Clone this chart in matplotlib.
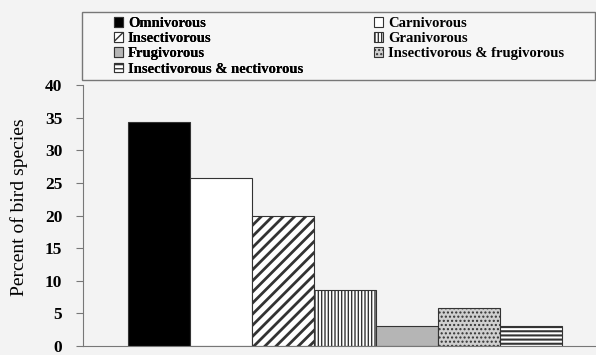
import numpy as np
import matplotlib
matplotlib.use('Agg')
from matplotlib import pyplot as plt
from matplotlib.patches import Patch, Rectangle

diets = ['Omnivorous', 'Carnivorous', 'Insectivorous', 'Granivorous',
         'Frugivorous', 'Insectivorous & frugivorous', 'Insectivorous & nectivorous']
percent = [34.4, 25.8, 20.0, 8.6, 3.0, 5.8, 3.0]
yticks = [0, 5, 10, 15, 20, 25, 30, 35, 40]

colors = ['black', 'white', 'white', 'white', '#b5b5b5', '#cfcfcf', 'white']
hatches = [None, None, '///', '|||||', None, '....', '----']
hatch_lw = [1, 1, 2.0, 1.0, 1, 1, 1.5]

plt.rcParams['font.family'] = 'Liberation Serif'

fig = plt.figure(figsize=(5.96, 3.55), dpi=100)
fig.patch.set_facecolor('#f3f3f3')
ax = fig.add_axes([83 / 596, 9 / 355, 1 - 83 / 596, 261 / 355])
ax.set_facecolor('#f3f3f3')

x = np.arange(len(diets))
handles = []
for i in range(len(diets)):
    with plt.rc_context({'hatch.linewidth': hatch_lw[i]}):
        bar = ax.bar(x[i], percent[i], width=1.0, color=colors[i], hatch=hatches[i],
                     edgecolor='#333333', linewidth=0.8)
        h = Patch(facecolor=colors[i], hatch=hatches[i], edgecolor='#333333',
                  linewidth=0.8, label=diets[i])
    handles.append(h)

ax.set_xlim(-1.23, 7.05)
ax.set_ylim(0, 40)
ax.set_yticks(yticks)
ax.set_yticklabels([str(t) for t in yticks], fontsize=12.5, fontweight='bold')
ax.set_xticks([])
ax.tick_params(axis='y', direction='out', length=5, color='#777777', pad=10)
for s in ['top', 'right']:
    ax.spines[s].set_visible(False)
ax.spines['left'].set_color('#777777')
ax.spines['bottom'].set_color('#777777')
ax.set_ylabel('Percent of bird species', fontsize=14)
ax.yaxis.set_label_coords(-0.108, 0.53)

# legend frame
fig.add_artist(Rectangle((82 / 596, 1 - 80 / 355), 513 / 596, 68 / 355,
                         transform=fig.transFigure, facecolor='#f6f6f6',
                         edgecolor='#777777', linewidth=1))

leg_kw = dict(loc='upper left', prop={'weight': 'bold', 'size': 10.5}, frameon=False,
              handlelength=0.65, handleheight=0.65, handletextpad=0.3,
              labelspacing=0.15, borderpad=0, borderaxespad=0)
col1 = [0, 2, 4, 6]
col2 = [1, 3, 5]
leg1 = fig.legend([handles[i] for i in col1], [diets[i] for i in col1],
                  bbox_to_anchor=(114 / 596, 1 - 17 / 355), **leg_kw)
fig.add_artist(leg1)
fig.legend([handles[i] for i in col2], [diets[i] for i in col2],
           bbox_to_anchor=(374 / 596, 1 - 17 / 355), **leg_kw)

fig.savefig('out.png', dpi=100, facecolor=fig.get_facecolor())
